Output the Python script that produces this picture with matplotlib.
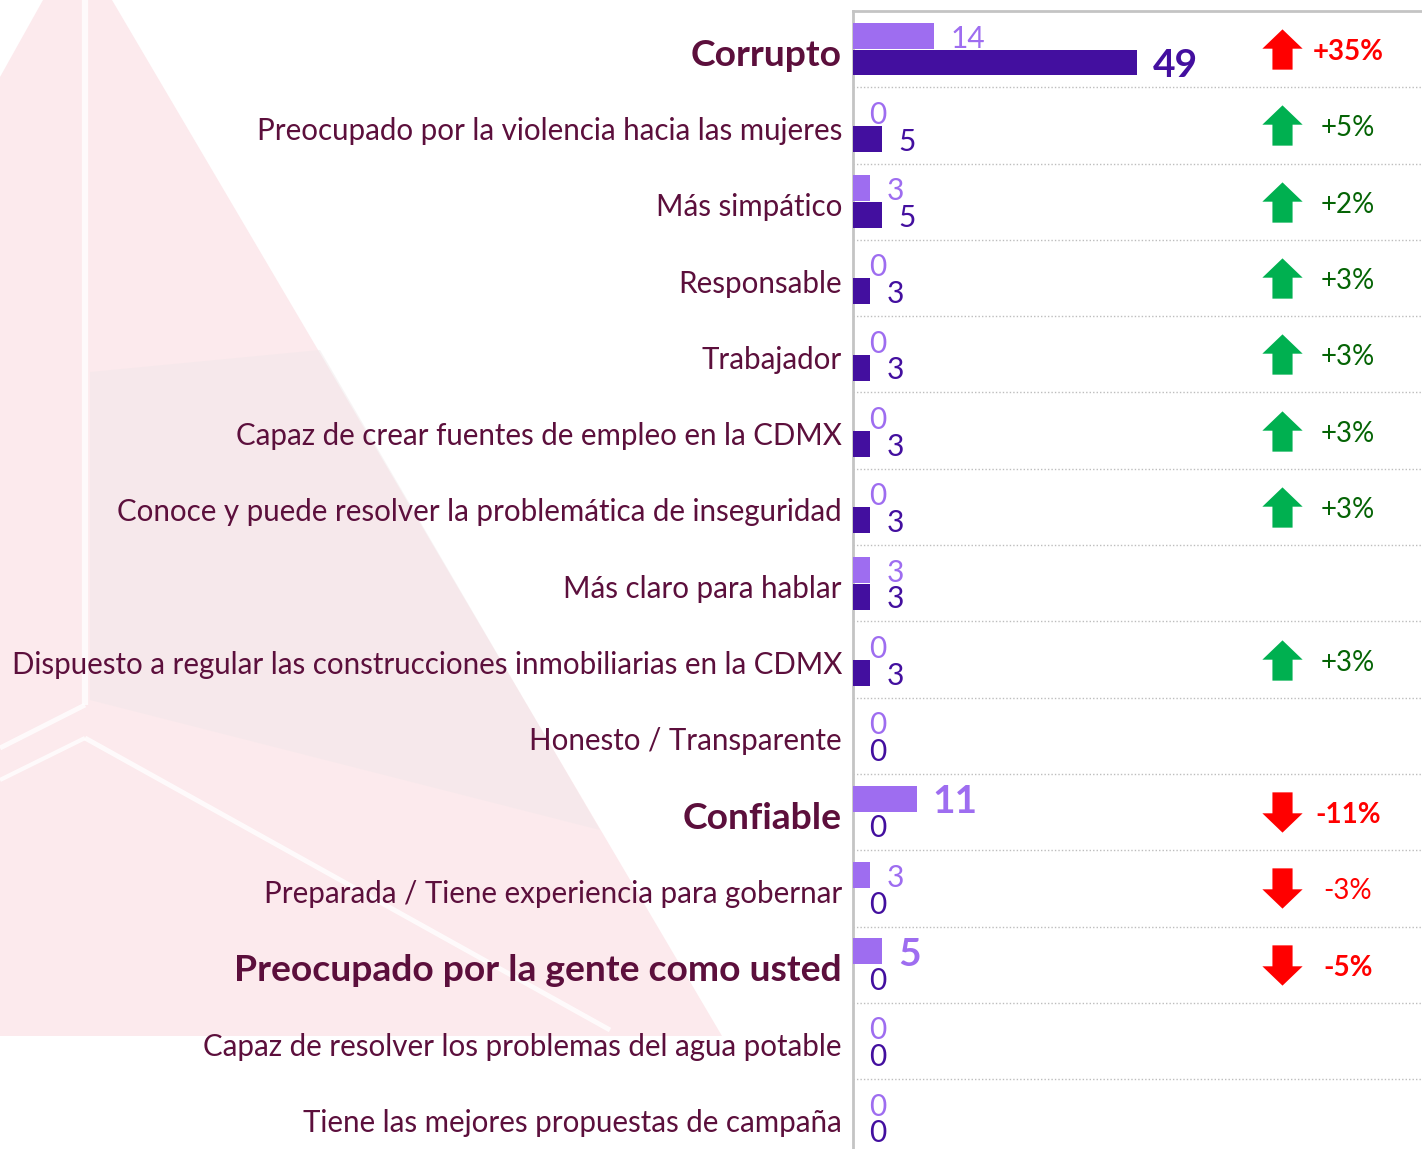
import matplotlib
matplotlib.use("Agg")
import matplotlib.pyplot as plt
from matplotlib.path import Path
from matplotlib.patches import Polygon
from matplotlib.lines import Line2D
import matplotlib.transforms as mtransforms

# ---------------- data ----------------
categories = [
    "Corrupto",
    "Preocupado por la violencia hacia las mujeres",
    "Más simpático",
    "Responsable",
    "Trabajador",
    "Capaz de crear fuentes de empleo en la CDMX",
    "Conoce y puede resolver la problemática de inseguridad",
    "Más claro para hablar",
    "Dispuesto a regular las construcciones inmobiliarias en la CDMX",
    "Honesto / Transparente",
    "Confiable",
    "Preparada / Tiene experiencia para gobernar",
    "Preocupado por la gente como usted",
    "Capaz de resolver los problemas del agua potable",
    "Tiene las mejores propuestas de campaña",
]
previous = [14, 0, 3, 0, 0, 0, 0, 3, 0, 0, 11, 3, 5, 0, 0]
current = [49, 5, 5, 3, 3, 3, 3, 3, 3, 0, 0, 0, 0, 0, 0]
change = [35, 5, 2, 3, 3, 3, 3, None, 3, None, -11, -3, -5, None, None]
highlight = [0, 10, 12]

# ---------------- style ----------------
W, H = 1422, 1149
LIGHT = "#9E6DF0"
DARK = "#430F9F"
LABEL = "#5C0F3C"
RED = "#FF0000"
GREEN_ARROW = "#00B050"
GREEN_TEXT = "#056405"
FONT = ["Lato", "DejaVu Sans"]
plt.rcParams["font.family"] = FONT

fig = plt.figure(figsize=(W / 100, H / 100), dpi=100)
fig.patch.set_facecolor("white")

def fx(px):
    return px / W

def fy(py):
    return 1 - py / H

# ---------------- decorative background ----------------
bg = fig.add_axes([0, 0, 1, 1], zorder=0)
bg.set_xlim(0, W)
bg.set_ylim(H, 0)
bg.axis("off")
bg.add_patch(Polygon([(43, 0), (112, 0), (722, 1036), (0, 1036), (0, 77)],
                     closed=True, facecolor="#FCEAED", edgecolor="none"))
bg.add_patch(Polygon([(90, 372), (320, 350), (600, 830), (90, 700)],
                     closed=True, facecolor="#EFE7E9", edgecolor="none", alpha=0.45))
for (x0, y0, x1, y1, lw) in [(85, 0, 85, 705, 4.5), (85, 705, 0, 748, 3.5),
                             (85, 738, 0, 780, 3), (85, 738, 610, 1030, 3.5)]:
    bg.add_line(Line2D([x0, x1], [y0, y1], color="white", lw=lw, alpha=0.8,
                       solid_capstyle="butt"))

# ---------------- main axes ----------------
left_px, top_px = 853, 11
row_h = 76.3
n = len(categories)
bottom_px = top_px + row_h * n
ax = fig.add_axes([fx(left_px), fy(bottom_px), fx(W - left_px), (bottom_px - top_px) / H], zorder=2)
ax.set_facecolor("none")
px_per_unit = 5.8
ax.set_xlim(0, (W - left_px) / px_per_unit)
ax.set_ylim(n - 0.5, -0.5)

ys = list(range(n))
bh = 0.34
off = 0.175
ax.barh([y - off for y in ys], previous, height=bh, color=LIGHT, zorder=3)
ax.barh([y + off for y in ys], current, height=bh, color=DARK, zorder=3)

down_shift = mtransforms.ScaledTranslation(0, -3 / 100, fig.dpi_scale_trans)

for i in range(n):
    big = i in highlight
    bigl = big and i != 0
    ax.annotate(str(previous[i]), (previous[i], i - off), xytext=(11.5, -2),
                textcoords="offset points", va="center", ha="left",
                color=LIGHT, fontsize=28 if bigl else 21.5,
                fontweight="bold" if bigl else "normal")
    ax.annotate(str(current[i]), (current[i], i + off), xytext=(11.5, -2),
                textcoords="offset points", va="center", ha="left",
                color=DARK, fontsize=28 if i == 0 else 21.5,
                fontweight="bold" if i == 0 else "normal")

# separators
for i in range(n - 1):
    ax.axhline(i + 0.5, color="#BDBDBD", lw=1.0, ls=(0, (1, 1.5)), zorder=1)
ax.axhline(-0.5, color="#C4C4C4", lw=2.0, zorder=1, clip_on=False)

for s in ["top", "right", "bottom"]:
    ax.spines[s].set_visible(False)
ax.spines["left"].set_color("#C4C4C4")
ax.spines["left"].set_linewidth(2.0)

ax.set_xticks([])
ax.set_yticks(ys)
ax.set_yticklabels(categories)
ax.tick_params(axis="y", length=0, pad=8)
for i, t in enumerate(ax.get_yticklabels()):
    t.set_color(LABEL)
    if i in highlight:
        t.set_fontsize(26.8)
        t.set_fontweight("bold")
    else:
        t.set_fontsize(21.25)

# arrows + change text
up_path = Path([(0, 0.5), (0.5, 0.02), (0.25, 0.02), (0.25, -0.5), (-0.25, -0.5),
                (-0.25, 0.02), (-0.5, 0.02), (0, 0.5)], closed=True)
down_path = Path([(x, -y) for x, y in up_path.vertices], closed=True)
trans = mtransforms.blended_transform_factory(ax.transAxes, ax.transData)
ax_arrow_x = (1282 - left_px) / (W - left_px)
ax_text_x = (1348 - left_px) / (W - left_px)
for i, c in enumerate(change):
    if c is None:
        continue
    if c > 0:
        acol = RED if i == 0 else GREEN_ARROW
        tcol = RED if i == 0 else GREEN_TEXT
        marker = up_path
        label = f"+{c}%"
    else:
        acol = RED
        tcol = RED
        marker = down_path
        label = f"-{abs(c)}%"
    ax.plot([ax_arrow_x], [i], marker=marker, markersize=29, color=acol,
            markeredgewidth=0, transform=trans, clip_on=False, zorder=4)
    ax.text(ax_text_x, i, label, transform=trans + down_shift, ha="center", va="center",
            color=tcol, fontsize=20,
            fontweight="bold" if i in highlight else "normal")

fig.canvas.draw()
for t in ax.get_yticklabels():
    t.set_transform(t.get_transform() + down_shift)

fig.savefig("out.png", dpi=100, facecolor="white")
